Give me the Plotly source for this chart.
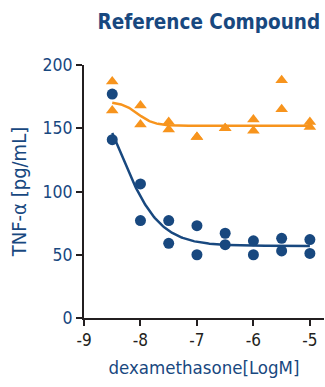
import numpy as np
import plotly.graph_objects as go

# Data (log M concentration of dexamethasone)
x_circ = [-8.5, -8.5, -8, -8, -7.5, -7.5, -7, -7, -6.5, -6.5, -6, -6, -5.5, -5.5, -5, -5]
y_circ = [177, 141, 106, 77, 77, 59, 73, 50, 67, 58, 61, 50, 63, 53, 62, 51]

x_tri = [-8.5, -8.5, -8, -8, -7.5, -7.5, -7, -7, -6.5, -6.5, -6, -6, -5.5, -5.5, -5, -5]
y_tri = [187, 164, 168, 153, 155, 149, 143, 143, 150, 150, 157, 148, 188, 165, 155, 151]

# 4-parameter logistic fit parameters (bottom, top, logEC50, hill)
fit_circ = dict(bottom=57, top=214, logec50=-8.4, hill=1.2)
fit_tri = dict(bottom=152, top=171, logec50=-8.05, hill=3.0)

x_ticks = [-9, -8, -7, -6, -5]
y_ticks = [0, 50, 100, 150, 200]

BLUE = "#18487f"
ORANGE = "#f7941d"
AXIS = "#231f20"
FONT = "DejaVu Sans Condensed, Liberation Sans Narrow, Arial, sans-serif"


def logistic(x, p):
    x = np.asarray(x)
    return p["bottom"] + (p["top"] - p["bottom"]) / (1 + 10 ** ((x - p["logec50"]) * p["hill"]))


xc = np.linspace(-8.5, -5.0, 200)

fig = go.Figure()
fig.add_trace(go.Scatter(x=xc, y=logistic(xc, fit_tri), mode="lines",
                         line=dict(color=ORANGE, width=2.5), hoverinfo="skip"))
fig.add_trace(go.Scatter(x=xc, y=logistic(xc, fit_circ), mode="lines",
                         line=dict(color=BLUE, width=2.5), hoverinfo="skip"))
fig.add_trace(go.Scatter(x=x_tri, y=y_tri, mode="markers",
                         marker=dict(symbol="triangle-up", size=11, color=ORANGE)))
fig.add_trace(go.Scatter(x=x_circ, y=y_circ, mode="markers",
                         marker=dict(symbol="circle", size=11, color=BLUE)))

fig.update_layout(
    width=325, height=387,
    margin=dict(l=84, r=1, t=65, b=69, autoexpand=False),
    paper_bgcolor="white", plot_bgcolor="white",
    showlegend=False,
    font=dict(family=FONT, size=15, color=BLUE),
    title=dict(text="<b>Reference Compound</b>", x=0.985, xanchor="right",
               y=0.943, yanchor="middle",
               font=dict(family=FONT, size=20.5, color=BLUE)),
    xaxis=dict(range=[-9, -4.75], tickvals=x_ticks, ticktext=[str(v) for v in x_ticks],
               showgrid=False, zeroline=False, showline=True, linecolor=AXIS, linewidth=2,
               ticks="outside", ticklen=6, tickwidth=2, tickcolor=AXIS, automargin=False,
               tickfont=dict(family=FONT, size=17, color="#231f20"),
               title=dict(text="dexamethasone[LogM]", standoff=12,
                          font=dict(family=FONT, size=18.5, color=BLUE))),
    yaxis=dict(range=[0, 200], tickvals=y_ticks,
               showgrid=False, zeroline=False, showline=True, linecolor=AXIS, linewidth=2,
               ticks="outside", ticklen=6, tickwidth=2, tickcolor=AXIS, automargin=False,
               tickfont=dict(family=FONT, size=17.5, color=BLUE),
               title=dict(text="TNF-α [pg/mL]", standoff=10,
                          font=dict(family=FONT, size=20, color=BLUE))),
)

fig.write_html("out.html", config={"displayModeBar": False},
               post_script="document.body.style.margin='0';document.body.style.overflow='hidden';")
